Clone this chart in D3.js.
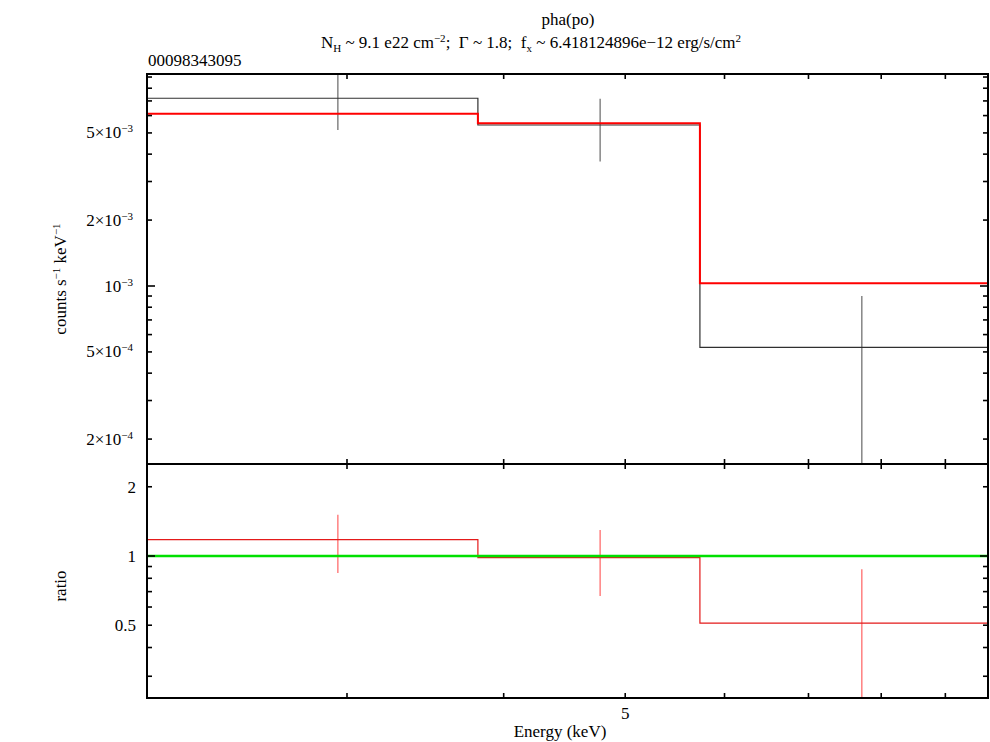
<!DOCTYPE html>
<html>
<head>
<meta charset="utf-8">
<script src="https://cdn.jsdelivr.net/npm/d3@7"></script>
<style>
  html, body { margin: 0; padding: 0; background: #fff; }
  svg { display: block; }
  svg text { font-family: "Liberation Serif", "Times New Roman", Times, "DejaVu Serif", serif; fill: #000; white-space: pre; }
</style>
</head>
<body>
<svg id="chart" width="990" height="742" font-family="Liberation Serif, Times New Roman, serif"></svg>
<script>
// ---------------- data ----------------
const binLo      = [2.078, 3.815, 5.735];      // keV
const binHi      = [3.815, 5.735, 9.733];      // keV
const binCenter  = [2.95, 4.775, 7.72];        // keV
const dataRate   = [7.20e-3, 5.435e-3, 5.25e-4];   // counts s^-1 keV^-1
const dataErr    = [2.05e-3, 1.73e-3, 3.75e-4];
const modelRate  = [6.12e-3, 5.53e-3, 1.029e-3];
const ratioVal   = [1.178, 0.983, 0.511];
const ratioErr   = [0.335, 0.313, 0.364];

const xDomain      = [2.078, 9.733];
const yTopDomain   = [1.539e-4, 9.29e-3];
const yBotDomain   = [0.2413, 2.512];
const xTickValues  = [3, 4, 5, 6, 7, 8, 9];
const xTickLabels  = {5: "5"};
const yTopTicks    = [2e-4,3e-4,4e-4,5e-4,6e-4,7e-4,8e-4,9e-4,1e-3,2e-3,3e-3,4e-3,5e-3,6e-3,7e-3,8e-3,9e-3];
const yTopLabels   = [{v: 5e-3, m: "5×10", e: "−3"}, {v: 2e-3, m: "2×10", e: "−3"},
                      {v: 1e-3, m: "10", e: "−3"}, {v: 5e-4, m: "5×10", e: "−4"},
                      {v: 2e-4, m: "2×10", e: "−4"}];
const yTopMajor    = [1e-3];
const yBotTicks    = [0.3, 0.4, 0.5, 0.6, 0.7, 0.8, 0.9, 1, 2];
const yBotLabels   = [{v: 2, t: "2"}, {v: 1, t: "1"}, {v: 0.5, t: "0.5"}];
const yBotMajor    = [1];

// ---------------- layout ----------------
const L = 147, R = 988, T1 = 74, B1 = 464, T2 = 464, B2 = 698;
const svg = d3.select("#chart");
const FONT = "'Liberation Serif', 'Times New Roman', Times, serif";

const x  = d3.scaleLog().domain(xDomain).range([L, R]);
const yT = d3.scaleLog().domain(yTopDomain).range([B1, T1]);
const yB = d3.scaleLog().domain(yBotDomain).range([B2, T2]);

const minorLen = 5, majorLen = 8;

function stepPoints(vals) {
  const pts = [];
  vals.forEach((v, i) => { pts.push([binLo[i], v]); pts.push([binHi[i], v]); });
  return pts;
}

// clip paths
const defs = svg.append("defs");
defs.append("clipPath").attr("id", "clipTop").append("rect")
  .attr("x", L).attr("y", T1).attr("width", R - L).attr("height", B1 - T1);
defs.append("clipPath").attr("id", "clipBot").append("rect")
  .attr("x", L).attr("y", T2).attr("width", R - L).attr("height", B2 - T2);

// ---------------- top panel ----------------
const gTop = svg.append("g");
const lineTop = d3.line().x(d => x(d[0])).y(d => yT(d[1]));

gTop.append("g").selectAll("line").data(binCenter).join("line")
  .attr("x1", d => x(d)).attr("x2", d => x(d))
  .attr("y1", (d, i) => yT(dataRate[i] + dataErr[i]))
  .attr("y2", (d, i) => yT(Math.max(dataRate[i] - dataErr[i], yTopDomain[0])))
  .attr("stroke", "#858585").attr("stroke-width", 1.5);

gTop.append("path").attr("d", lineTop(stepPoints(dataRate)))
  .attr("fill", "none").attr("stroke", "#303030").attr("stroke-width", 1.2)
  .attr("clip-path", "url(#clipTop)");

gTop.append("path").attr("d", lineTop(stepPoints(modelRate)))
  .attr("fill", "none").attr("stroke", "#ff0000").attr("stroke-width", 2)
  .attr("clip-path", "url(#clipTop)");

// ---------------- bottom panel ----------------
const gBot = svg.append("g");
const lineBot = d3.line().x(d => x(d[0])).y(d => yB(d[1]));

gBot.append("g").selectAll("line").data(binCenter).join("line")
  .attr("x1", d => x(d)).attr("x2", d => x(d))
  .attr("y1", (d, i) => yB(ratioVal[i] + ratioErr[i]))
  .attr("y2", (d, i) => yB(Math.max(ratioVal[i] - ratioErr[i], yBotDomain[0])))
  .attr("stroke", "#ff8080").attr("stroke-width", 1.5);

gBot.append("path").attr("d", lineBot(stepPoints(ratioVal)))
  .attr("fill", "none").attr("stroke", "#e41a1a").attr("stroke-width", 1.2)
  .attr("clip-path", "url(#clipBot)");

gBot.append("path").attr("d", lineBot([[xDomain[0], 1], [xDomain[1], 1]]))
  .attr("fill", "none").attr("stroke", "#00e000").attr("stroke-width", 2.6);

// ---------------- axes (ticks inward) ----------------
const axG = svg.append("g").attr("stroke", "#000").attr("stroke-width", 1.6);

function yTicks(scale, ticks, majors, top, bottom) {
  ticks.forEach(v => {
    const yy = scale(v);
    if (yy < top - 0.5 || yy > bottom + 0.5) return;
    const len = majors.includes(v) ? majorLen : minorLen;
    axG.append("line").attr("x1", L).attr("x2", L + len).attr("y1", yy).attr("y2", yy);
    axG.append("line").attr("x1", R).attr("x2", R - len).attr("y1", yy).attr("y2", yy);
  });
}
yTicks(yT, yTopTicks, yTopMajor, T1, B1);
yTicks(yB, yBotTicks, yBotMajor, T2, B2);

function xTicks(yTopEdge, yBottomEdge) {
  xTickValues.forEach(v => {
    const xx = x(v);
    axG.append("line").attr("x1", xx).attr("x2", xx).attr("y1", yTopEdge).attr("y2", yTopEdge + minorLen);
    axG.append("line").attr("x1", xx).attr("x2", xx).attr("y1", yBottomEdge).attr("y2", yBottomEdge - minorLen);
  });
}
xTicks(T1, B1);
xTicks(T2, B2);

svg.append("rect").attr("x", L).attr("y", T1).attr("width", R - L).attr("height", B1 - T1)
  .attr("fill", "none").attr("stroke", "#000").attr("stroke-width", 2);
svg.append("rect").attr("x", L).attr("y", T2).attr("width", R - L).attr("height", B2 - T2)
  .attr("fill", "none").attr("stroke", "#000").attr("stroke-width", 2);

// ---------------- text helper ----------------
const FS = 17;
function txt(sel) { return sel.append("text").attr("font-family", FONT).attr("font-size", FS); }

yTopLabels.forEach(d => {
  const t = txt(svg).attr("x", 133).attr("y", yT(d.v) + 5.5).attr("text-anchor", "end");
  t.append("tspan").text(d.m);
  t.append("tspan").attr("font-size", 11).attr("dy", -6).text(d.e);
});
yBotLabels.forEach(d => {
  txt(svg).attr("x", 136).attr("y", yB(d.v) + 6).attr("text-anchor", "end").text(d.t);
});
xTickValues.forEach(v => {
  if (!xTickLabels[v]) return;
  txt(svg).attr("x", x(v)).attr("y", 719).attr("text-anchor", "middle").text(xTickLabels[v]);
});

// ---------------- titles ----------------
txt(svg).attr("x", 568).attr("y", 25).attr("text-anchor", "middle").text("pha(po)");

const t2 = txt(svg).attr("x", 531).attr("y", 48).attr("text-anchor", "middle");
t2.append("tspan").text("N");
t2.append("tspan").attr("font-size", 11).attr("dy", 4).text("H");
t2.append("tspan").attr("dy", -4).text(" ~ 9.1 e22 cm");
t2.append("tspan").attr("font-size", 11).attr("dy", -6).text("−2");
t2.append("tspan").attr("dy", 6).text(";\u00A0\u00A0Γ ~ 1.8;\u00A0\u00A0f");
t2.append("tspan").attr("font-size", 11).attr("dy", 4).text("x");
t2.append("tspan").attr("dy", -4).text(" ~ 6.418124896e−12 erg/s/cm");
t2.append("tspan").attr("font-size", 11).attr("dy", -6).text("2");

txt(svg).attr("x", L + 1).attr("y", 66).text("00098343095");

const yl = txt(svg).attr("transform", "translate(65.5,279) rotate(-90)").attr("text-anchor", "middle");
yl.append("tspan").text("counts s");
yl.append("tspan").attr("font-size", 11).attr("dy", -6).text("−1");
yl.append("tspan").attr("dy", 6).text(" keV");
yl.append("tspan").attr("font-size", 11).attr("dy", -6).text("−1");

txt(svg).attr("transform", "translate(65.5,586) rotate(-90)").attr("text-anchor", "middle").text("ratio");

txt(svg).attr("x", 560).attr("y", 737).attr("text-anchor", "middle").text("Energy (keV)");
</script>
</body>
</html>
